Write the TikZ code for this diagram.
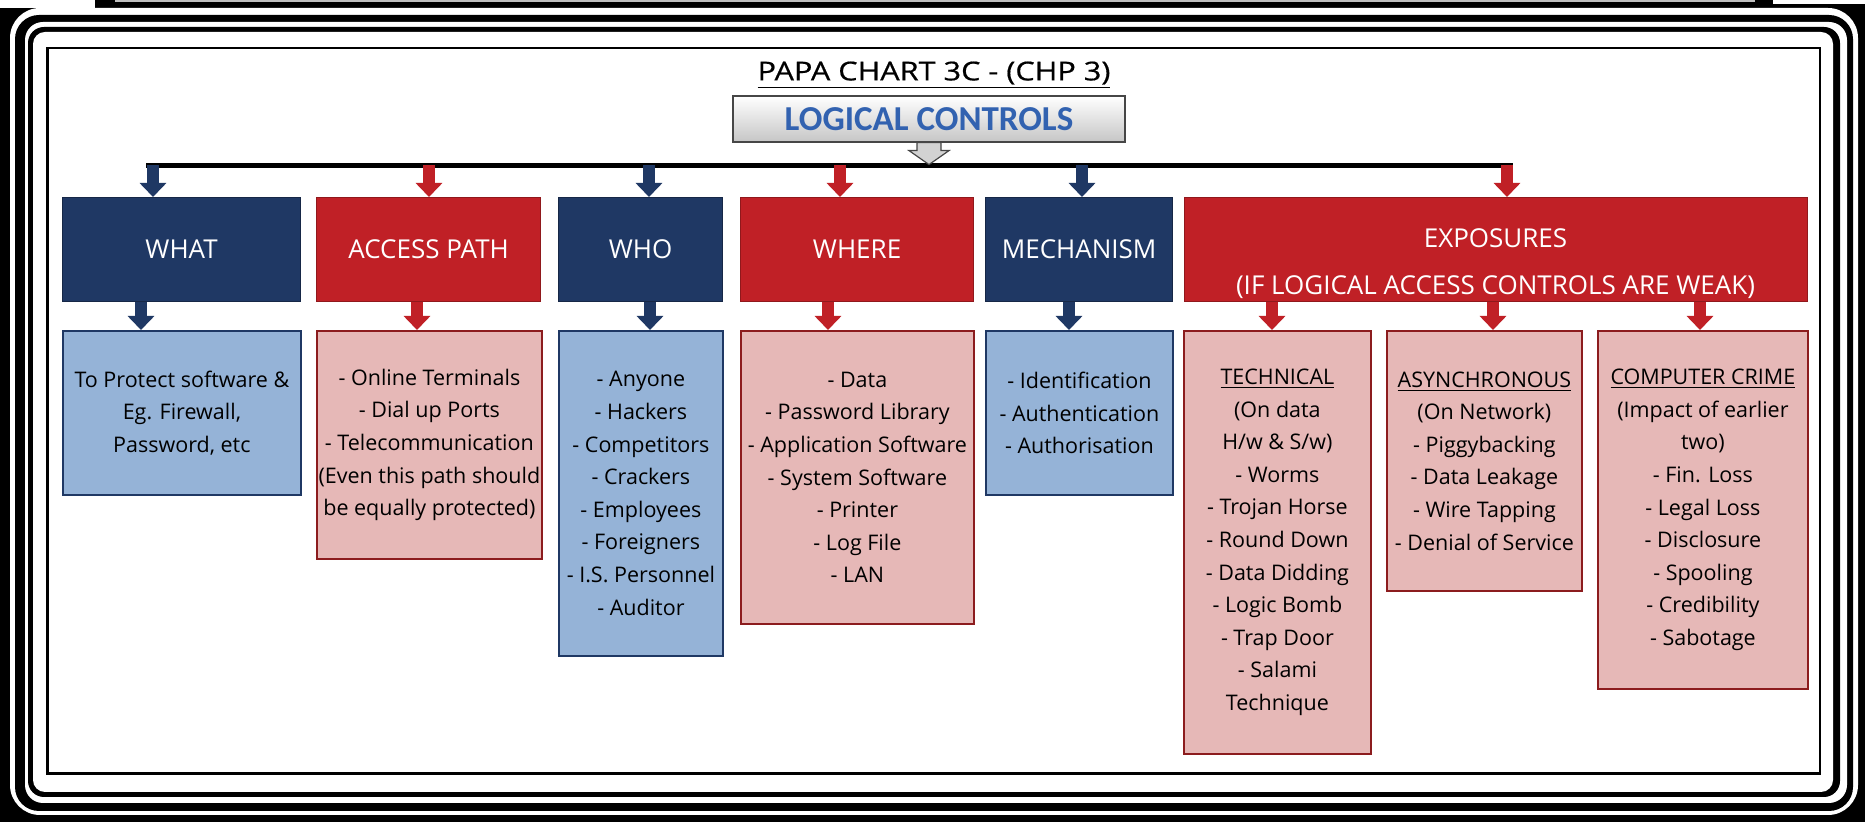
\documentclass[tikz,border=0pt]{standalone}
\usepackage{fontspec}
\setmainfont{Open Sans}
\newfontfamily\titlefont[FakeStretch=1.18,FakeBold=0.6]{Open Sans}
\newfontfamily\lcfont{Carlito}
\usetikzlibrary{arrows.meta}
\definecolor{navy}{RGB}{31,56,100}
\definecolor{hred}{RGB}{192,32,38}
\definecolor{lblue}{RGB}{149,179,215}
\definecolor{lpink}{RGB}{230,184,183}
\definecolor{dred}{RGB}{140,28,30}
\definecolor{lcblue}{RGB}{50,98,176}
\begin{document}
\begin{tikzpicture}[x=0.5pt,y=-0.5pt,
  hdr/.style={anchor=north west, inner sep=0pt, align=center, text=white,
    minimum height=52pt, line width=0.6pt, font=\fontsize{13}{15}\selectfont},
  navyhdr/.style={hdr, fill=navy, draw=navy!70!black},
  redhdr/.style={hdr, fill=hred, draw=hred!75!black},
  cbox/.style={anchor=north west, inner sep=0pt, align=center, line width=0.9pt,
    font=\fontsize{10.75}{16.3}\selectfont},
  bluebox/.style={cbox, fill=lblue, draw=navy},
  pinkbox/.style={cbox, fill=lpink, draw=dred},
  navyarr/.style={draw=navy, line width=6pt, -{Triangle[width=13pt,length=7pt]}},
  redarr/.style={draw=hred, line width=6pt, -{Triangle[width=13pt,length=7pt]}},
  garrow/.style={fill=gray!35, draw=gray!55!black, line width=0.6pt}
]
\useasboundingbox (0,0) rectangle (1865,822);
% ---- frame ----
\fill[black] (0,0) rectangle (1865,822);
\fill[white] (0,0) rectangle (95,8);
\fill[white] (1773,0) rectangle (1865,4);
\fill[gray!50] (115,0.5) rectangle (1755,2.5);
\fill[white, rounded corners=15pt] (10,8) rectangle (1858,815);
\fill[black, rounded corners=12pt] (15,15) rectangle (1853,811);
\fill[white, rounded corners=9pt] (25,22) rectangle (1847,803);
\fill[black, rounded corners=8pt] (28,27) rectangle (1840,797);
\fill[white, rounded corners=6pt] (33,32) rectangle (1833,792);
\draw[line width=1.3pt] (47.5,48) rectangle (1820,773.5);

% ---- title ----
\node[font=\titlefont\fontsize{13}{15}\selectfont, inner sep=0pt] (title) at (934,75)
  {\underline{PAPA CHART 3C - (CHP 3)}};
\node[minimum width=196pt, minimum height=23pt, inner sep=0pt,
  top color=white, bottom color=gray!45, draw=gray!55!black, line width=0.6pt,
  font=\lcfont\bfseries\fontsize{17.5}{19}\selectfont, text=lcblue] (lc) at (929,119)
  {LOGICAL CONTROLS};

% ---- bar ----
\coordinate (barL) at (146,165.5);
\coordinate (barR) at (1513,165.5);
\draw[line width=2.5pt] (barL) -- (barR);
\draw[garrow] (lc.south) ++(-6pt,0) -- ++(0,-4pt) -- ++(-4pt,0) -- ++(10pt,-7pt)
  -- ++(10pt,7pt) -- ++(-4pt,0) -- ++(0,4pt) -- cycle;

% ---- headers ----
\node[navyhdr, minimum width=119pt] (what) at (62,197) {WHAT};
\node[redhdr, minimum width=112pt] (acc) at (316,197) {ACCESS PATH};
\node[navyhdr, minimum width=82pt] (who) at (558,197) {WHO};
\node[redhdr, minimum width=116.5pt] (where) at (740,197) {WHERE};
\node[navyhdr, minimum width=93.5pt] (mech) at (985,197) {MECHANISM};
\node[redhdr, minimum width=311.5pt] (exp) at (1184,197) {};
\node[text=white, align=center, inner sep=0pt, font=\fontsize{13}{23.5}\selectfont]
  (exptxt) at (1495.5,263.5) {EXPOSURES\\(IF LOGICAL ACCESS CONTROLS ARE WEAK)};

% ---- content ----
\node[bluebox, minimum width=119pt, minimum height=82pt] (whatc) at (62,330)
  {To Protect software \&\\Eg. Firewall,\\Password, etc};
\node[pinkbox, minimum width=112.5pt, minimum height=114pt] (accc) at (316,330)
  {- Online Terminals\\- Dial up Ports\\- Telecommunication\\(Even this path should\\be equally protected)};
\node[bluebox, minimum width=82pt, minimum height=162.5pt] (whoc) at (558,330)
  {- Anyone\\- Hackers\\- Competitors\\- Crackers\\- Employees\\- Foreigners\\- I.S. Personnel\\- Auditor};
\node[pinkbox, minimum width=116.5pt, minimum height=146.5pt] (wherec) at (740,330)
  {- Data\\- Password Library\\- Application Software\\- System Software\\- Printer\\- Log File\\- LAN};
\node[bluebox, minimum width=93.5pt, minimum height=82pt] (mechc) at (985,330)
  {- Identification\\- Authentication\\- Authorisation};
\node[pinkbox, minimum width=93.5pt, minimum height=211.5pt] (tech) at (1183,330)
  {\underline{TECHNICAL}\\(On data\\H/w \& S/w)\\- Worms\\- Trojan Horse\\- Round Down\\- Data Didding\\- Logic Bomb\\- Trap Door\\- Salami\\Technique};
\node[pinkbox, minimum width=97.5pt, minimum height=130pt] (async) at (1386,330)
  {\underline{ASYNCHRONOUS}\\(On Network)\\- Piggybacking\\- Data Leakage\\- Wire Tapping\\- Denial of Service};
\node[pinkbox, minimum width=105pt, minimum height=179pt] (crime) at (1597,330)
  {\underline{COMPUTER CRIME}\\(Impact of earlier\\two)\\- Fin. Loss\\- Legal Loss\\- Disclosure\\- Spooling\\- Credibility\\- Sabotage};

% ---- arrows from bar ----
\foreach \x/\n/\s in {153/what/navyarr, 429/acc/redarr, 649/who/navyarr,
                      840/where/redarr, 1082/mech/navyarr, 1507/exp/redarr}{
  \coordinate (t\n) at (\x,165);
  \draw[\s] (t\n) -- (\n.north -| t\n);
}
% ---- arrows to content ----
\foreach \x/\a/\b/\s in {141/what/whatc/navyarr, 417/acc/accc/redarr, 650/who/whoc/navyarr,
                         828/where/wherec/redarr, 1069/mech/mechc/navyarr,
                         1272/exp/tech/redarr, 1493/exp/async/redarr, 1700/exp/crime/redarr}{
  \coordinate (b\b) at (\x,0);
  \draw[\s] (\a.south -| b\b) -- (\b.north -| b\b);
}
\end{tikzpicture}
\end{document}
